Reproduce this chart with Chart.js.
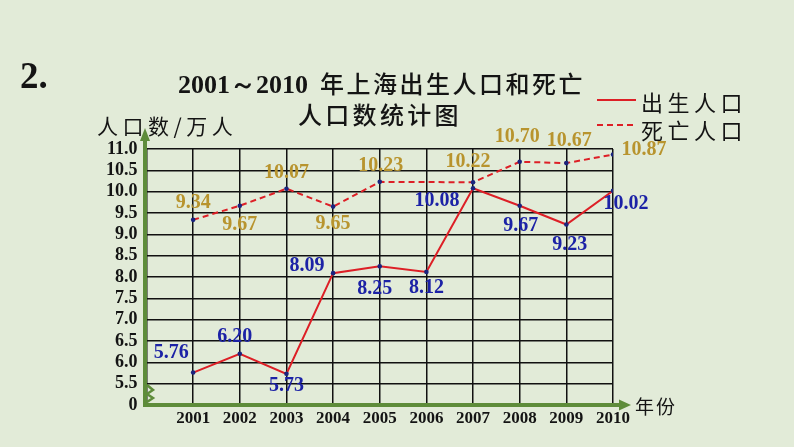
<!DOCTYPE html>
<html><head><meta charset="utf-8">
<script src="https://cdn.jsdelivr.net/npm/chart.js@4/dist/chart.umd.min.js"></script>
<style>html,body{margin:0;padding:0;background:#e2ebd8;overflow:hidden}#wrap{width:794px;height:447px}</style>
</head><body><div id="wrap"><canvas id="c" width="794" height="447"></canvas></div>
<script>
// ---- data ----
const years = [2001, 2002, 2003, 2004, 2005, 2006, 2007, 2008, 2009, 2010];
const birthValues = [5.76, 6.20, 5.73, 8.09, 8.25, 8.12, 10.08, 9.67, 9.23, 10.02];
const deathValues = [9.34, 9.67, 10.07, 9.65, 10.23, null, 10.22, 10.70, 10.67, 10.87];
const xTickValues = [2000, 2001, 2002, 2003, 2004, 2005, 2006, 2007, 2008, 2009, 2010];
const yTickValues = [5, 5.5, 6, 6.5, 7, 7.5, 8, 8.5, 9, 9.5, 10, 10.5, 11];
const yTickLabels = ['0', '5.5', '6.0', '6.5', '7.0', '7.5', '8.0', '8.5', '9.0', '9.5', '10.0', '10.5', '11.0'];
const seriesNames = ['出生人口', '死亡人口'];
const titleNum = '2001～2010';
const titleLine1 = '年上海出生人口和死亡';
const titleLine2 = '人口数统计图';
const yAxisTitle = '人口数/万人';
const xAxisTitle = '年份';
const questionNo = '2.';

// ---- styles (label offsets relative to each point) ----
const birthLabelOffsets = [[-22,-20],[-5,-17],[0,12],[-26,-7.5],[-5,22],[0,15.5],[-36,12.5],[1,20],[3.5,20],[13,13]];
const deathLabelOffsets = [[0,-16.5],[0,19],[0,-15.5],[0,17],[1,-16],null,[-5,-20.5],[-2.5,-24.5],[3,-22.5],[31,-4.5]];
const BG = '#e2ebd8', AXIS = '#5e8c3a', LINE = '#dd1f26', DOT = '#1a237e';
const BLUE = '#1c22a6', GOLD = '#b8942e', INK = '#141414';
const CJK = '"Noto Sans CJK SC"';
const SERIF = '"Liberation Serif", "Times New Roman", serif';

function drawChars(ctx, str, x, y, font, spacing) {
  ctx.font = font;
  ctx.textAlign = 'left';
  for (const ch of str) {
    ctx.fillText(ch, x, y);
    x += ctx.measureText(ch).width + spacing;
  }
  return x;
}

const decor = {
  id: 'decor',
  beforeDraw(chart) {
    const ctx = chart.ctx;
    ctx.save();
    ctx.fillStyle = BG;
    ctx.fillRect(0, 0, chart.width, chart.height);
    ctx.restore();
  },
  beforeDatasetsDraw(chart) {
    const ctx = chart.ctx, a = chart.chartArea;
    const x0 = chart.scales.x.getPixelForValue(2000) - 1.5;
    const y0 = chart.scales.y.getPixelForValue(5);
    ctx.save();
    ctx.strokeStyle = AXIS; ctx.fillStyle = AXIS; ctx.lineWidth = 4;
    ctx.beginPath(); ctx.moveTo(x0, y0 + 2); ctx.lineTo(x0, a.top - 9); ctx.stroke();
    ctx.beginPath(); ctx.moveTo(x0, a.top - 21); ctx.lineTo(x0 - 5, a.top - 8); ctx.lineTo(x0 + 5, a.top - 8); ctx.closePath(); ctx.fill();
    ctx.beginPath(); ctx.moveTo(x0 - 2, y0); ctx.lineTo(a.right + 8, y0); ctx.stroke();
    ctx.beginPath(); ctx.moveTo(a.right + 18, y0); ctx.lineTo(a.right + 6, y0 - 5.5); ctx.lineTo(a.right + 6, y0 + 5.5); ctx.closePath(); ctx.fill();
    ctx.lineWidth = 2.5;
    ctx.beginPath();
    ctx.moveTo(x0 + 2, y0 - 20); ctx.lineTo(x0 + 8, y0 - 15); ctx.lineTo(x0 + 2, y0 - 11);
    ctx.lineTo(x0 + 8, y0 - 7); ctx.lineTo(x0 + 2, y0 - 3);
    ctx.stroke();
    ctx.restore();
  },
  afterDatasetsDraw(chart) {
    const ctx = chart.ctx;
    ctx.save();
    ctx.fillStyle = INK;
    ctx.textBaseline = 'alphabetic';
    ctx.font = 'bold 37px ' + SERIF;
    ctx.fillText(questionNo, 20, 88);
    ctx.font = 'bold 26px ' + SERIF;
    ctx.textAlign = 'left';
    ctx.fillText(titleNum, 178, 93);
    const nx = 178 + ctx.measureText(titleNum).width + 4;
    ctx.textBaseline = 'middle';
    drawChars(ctx, titleLine1, Math.max(nx, 320), 84, '500 24px ' + CJK, 2.5);
    drawChars(ctx, titleLine2, 298, 115, '500 24px ' + CJK, 3.3);
    drawChars(ctx, yAxisTitle, 97, 126.5, '21px ' + CJK, 4.5);
    drawChars(ctx, xAxisTitle, 635, 407, '19px ' + CJK, 2);
    ctx.strokeStyle = LINE; ctx.lineWidth = 2;
    ctx.beginPath(); ctx.moveTo(597, 100); ctx.lineTo(636, 100); ctx.stroke();
    ctx.setLineDash([6, 4]);
    ctx.beginPath(); ctx.moveTo(597, 125); ctx.lineTo(636, 125); ctx.stroke();
    ctx.setLineDash([]);
    drawChars(ctx, seriesNames[0], 641, 102.5, '22px ' + CJK, 4.5);
    drawChars(ctx, seriesNames[1], 641, 131, '22px ' + CJK, 4.5);
    ctx.font = 'bold 20px ' + SERIF;
    ctx.textAlign = 'center';
    ctx.textBaseline = 'middle';
    const sets = [[0, birthValues, birthLabelOffsets, BLUE], [1, deathValues, deathLabelOffsets, GOLD]];
    for (const [di, vals, offs, col] of sets) {
      const meta = chart.getDatasetMeta(di);
      ctx.fillStyle = col;
      vals.forEach((v, i) => {
        if (v === null || !offs[i]) return;
        const p = meta.data[i];
        ctx.fillText(v.toFixed(2), p.x + offs[i][0], p.y + offs[i][1]);
      });
    }
    ctx.restore();
  }
};

new Chart(document.getElementById('c'), {
  type: 'line',
  data: {
    labels: years,
    datasets: [
      { label: seriesNames[0], data: years.map((y, i) => ({x: y, y: birthValues[i]})),
        borderColor: LINE, borderWidth: 2, pointRadius: 2.3, pointBackgroundColor: DOT,
        pointBorderWidth: 0, tension: 0, fill: false },
      { label: seriesNames[1], data: years.map((y, i) => ({x: y, y: deathValues[i]})),
        borderColor: LINE, borderWidth: 2, borderDash: [6, 4], spanGaps: true,
        pointRadius: 2.3, pointBackgroundColor: DOT, pointBorderWidth: 0, tension: 0, fill: false }
    ]
  },
  options: {
    responsive: false, animation: false, devicePixelRatio: 1,
    layout: { padding: { left: 0, right: 181, top: 149, bottom: 0 }, autoPadding: false },
    plugins: { legend: { display: false }, title: { display: false }, tooltip: { enabled: false } },
    scales: {
      x: {
        type: 'linear', min: 2000, max: 2010,
        afterBuildTicks: s => { s.ticks = xTickValues.map(v => ({ value: v })); },
        afterFit: s => { s.height = 42; },
        ticks: { autoSkip: false, maxRotation: 0, padding: 3, color: INK,
          font: { family: SERIF, weight: 'bold', size: 17 },
          callback: v => (v === 2000 ? '' : String(v)) },
        grid: { color: '#111', lineWidth: 1.5, drawTicks: false },
        border: { display: false }
      },
      y: {
        type: 'linear', min: 5, max: 11,
        afterBuildTicks: s => { s.ticks = yTickValues.map(v => ({ value: v })); },
        afterFit: s => { s.width = 146.5; },
        ticks: { autoSkip: false, padding: 9, color: INK,
          font: { family: SERIF, weight: 'bold', size: 18 },
          callback: (v) => yTickLabels[yTickValues.indexOf(v)] },
        grid: { color: '#111', lineWidth: 1.5, drawTicks: false },
        border: { display: false }
      }
    }
  },
  plugins: [decor]
});
</script>
</body></html>
